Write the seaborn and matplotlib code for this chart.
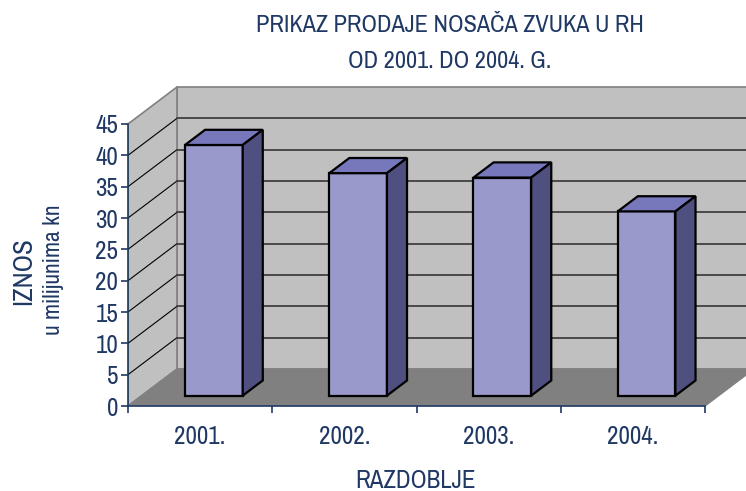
import matplotlib.pyplot as plt
from matplotlib.patches import Polygon
from matplotlib import font_manager
import seaborn as sns
import pandas as pd

# data
years = ["2001.", "2002.", "2003.", "2004."]
amounts = [40.0, 35.5, 34.8, 29.4]
y_ticks = [0, 5, 10, 15, 20, 25, 30, 35, 40, 45]

title_lines = ["PRIKAZ PRODAJE NOSAČA ZVUKA U RH", "OD 2001. DO 2004. G."]
x_title = "RAZDOBLJE"
y_title = "IZNOS"
y_subtitle = "u milijunima kn"

TEXT = "#1f3864"
FRONT = "#9999cc"
TOP = "#7777bb"
SIDE = "#4f4f80"
WALL = "#c0c0c0"
FLOOR = "#808080"

# look for a narrow sans font, like Arial Narrow in the original
names = sorted({f.name for f in font_manager.fontManager.ttflist})
narrow = [n for n in names if "Narrow" in n or "Condensed" in n]
FONT = narrow[:1] + ["Liberation Sans", "DejaVu Sans"]

sns.set_style("white")
plt.rcParams["font.family"] = FONT

W, H = 746, 491
fig = plt.figure(figsize=(W / 100, H / 100), dpi=100)

# pixel layout of the plot area (front plane)
px_left, px_right, px_zero, px_top = 128, 746, 406, 80
px_per_cat = (705 - 128) / 4
px_per_unit = (406 - 124) / 45
ax = fig.add_axes([
    px_left / W,
    (H - px_zero) / H,
    (px_right - px_left) / W,
    (px_zero - px_top) / H,
])

# depth of the 3d box in data units
dx = 49 / px_per_cat
dy = 37 / px_per_unit
ymax = y_ticks[-1]
x0, x1 = -0.5, len(years) - 0.5

# walls and floor
ax.add_patch(Polygon([(x0 + dx, dy), (x1 + dx, dy), (x1 + dx, ymax + dy), (x0 + dx, ymax + dy)],
                     closed=True, fc=WALL, ec=FLOOR, lw=1.2, zorder=0))
ax.add_patch(Polygon([(x0, 0), (x0, ymax), (x0 + dx, ymax + dy), (x0 + dx, dy)],
                     closed=True, fc=WALL, ec=FLOOR, lw=1.2, zorder=0))
ax.add_patch(Polygon([(x0, 0), (x1, 0), (x1 + dx, dy), (x0 + dx, dy)],
                     closed=True, fc=FLOOR, ec=FLOOR, lw=1, zorder=0.5))
for v in y_ticks[1:-1]:
    ax.plot([x0, x0 + dx], [v, v + dy], color="black", lw=0.8, zorder=0.6)
    ax.plot([x0 + dx, x1 + dx], [v + dy, v + dy], color="#404040", lw=1.3, zorder=0.6)

# front faces through seaborn, then pushed back into the box
df = pd.DataFrame({"year": years, "amount": amounts})
sns.barplot(data=df, x="year", y="amount", color=FRONT, saturation=1, width=0.4,
            edgecolor="black", linewidth=1.6, ax=ax, zorder=3)
bars = [p for p in ax.patches if p.get_zorder() == 3]
f0, fd = 0.28, 0.41
bdx, bdy = dx * fd, dy * fd
for p in bars:
    bx = p.get_x() + dx * f0
    by = dy * f0
    w, h = p.get_width(), p.get_height()
    p.set_x(bx)
    p.set_y(by)
    ax.add_patch(Polygon([(bx, by + h), (bx + w, by + h), (bx + w + bdx, by + h + bdy), (bx + bdx, by + h + bdy)],
                         closed=True, fc=TOP, ec="black", lw=1.6, zorder=3))
    ax.add_patch(Polygon([(bx + w, by), (bx + w + bdx, by + bdy), (bx + w + bdx, by + h + bdy), (bx + w, by + h)],
                         closed=True, fc=SIDE, ec="black", lw=1.6, zorder=3))

# limits after barplot (seaborn resets them)
ax.set_xlim(-0.5, -0.5 + (px_right - px_left) / px_per_cat)
ax.set_ylim(0, (px_zero - px_top) / px_per_unit)

# axes lines and ticks
for s in ["top", "right"]:
    ax.spines[s].set_visible(False)
ax.spines["left"].set_bounds(0, ymax)
ax.spines["bottom"].set_bounds(x0, x1)
for s in ["left", "bottom"]:
    ax.spines[s].set_color(TEXT)
    ax.spines[s].set_linewidth(1.2)
    ax.spines[s].set_zorder(5)
ax.set_yticks(y_ticks)
ax.set_yticklabels([str(v) for v in y_ticks])
ax.set_xticks(range(len(years)))
ax.set_xticklabels(years)
ax.set_xticks([x0 + i for i in range(len(years) + 1)], minor=True)
ax.tick_params(axis="y", length=5, width=1.2, color=TEXT, labelcolor=TEXT, labelsize=18, pad=2, left=True)
ax.tick_params(axis="x", which="major", length=0, labelcolor=TEXT, labelsize=18, pad=14)
ax.tick_params(axis="x", which="minor", length=5, width=1.2, color=TEXT, bottom=True)
ax.set_xlabel("")
ax.set_ylabel("")

# titles
fig.text(450 / W, 1 - 25 / H, title_lines[0], ha="center", va="center", color=TEXT, fontsize=17.5)
fig.text(450 / W, 1 - 62 / H, title_lines[1], ha="center", va="center", color=TEXT, fontsize=17.5)
fig.text(416 / W, 1 - 480 / H, x_title, ha="center", va="center", color=TEXT, fontsize=18)
fig.text(24 / W, 1 - 271 / H, y_title, ha="center", va="center", rotation=90, color=TEXT, fontsize=19.5)
fig.text(54 / W, 1 - 270 / H, y_subtitle, ha="center", va="center", rotation=90, color=TEXT, fontsize=17)

fig.savefig("out.png", dpi=100)
